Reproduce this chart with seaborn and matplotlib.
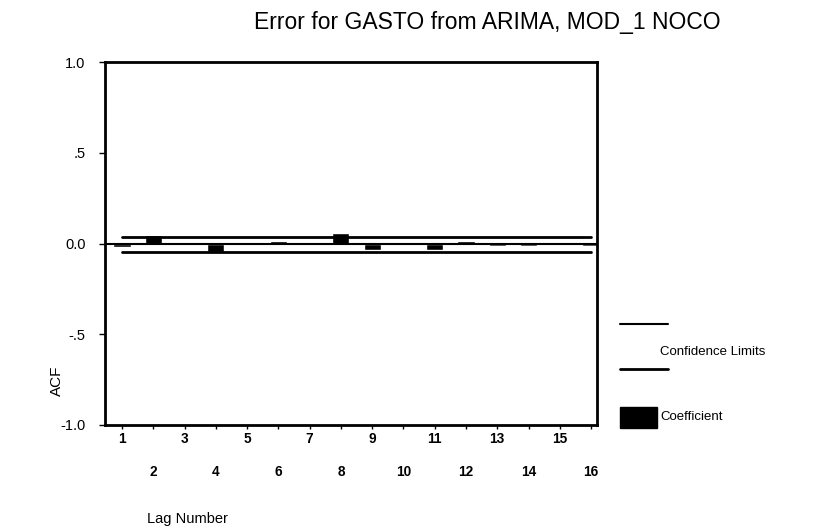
import matplotlib
matplotlib.use('Agg')
import matplotlib.pyplot as plt
import seaborn as sns
import pandas as pd
from matplotlib.lines import Line2D
from matplotlib.patches import Rectangle

# ACF of the residuals
lags = [1, 2, 3, 4, 5, 6, 7, 8, 9, 10, 11, 12, 13, 14, 15, 16]
acf = [-0.02, 0.045, 0.008, -0.045, 0.004, 0.014, 0.006, 0.06,
       -0.035, 0.01, -0.035, 0.012, -0.015, -0.012, -0.01, -0.015]
upper_limit = [0.037, 0.037, 0.037, 0.037, 0.037, 0.037, 0.037, 0.037,
               0.037, 0.037, 0.037, 0.037, 0.037, 0.037, 0.037, 0.037]
lower_limit = [-0.046, -0.046, -0.046, -0.046, -0.046, -0.046, -0.046, -0.046,
               -0.046, -0.046, -0.046, -0.046, -0.046, -0.046, -0.046, -0.046]

y_ticks = [1.0, 0.5, 0.0, -0.5, -1.0]
y_tick_labels = ['1.0', '.5', '0.0', '-.5', '-1.0']

title = 'Error for GASTO from ARIMA, MOD_1 NOCO'

W, H = 833, 532


def fx(px):
    return px / W


def fy(py):
    return 1 - py / H


df = pd.DataFrame({'lag': lags, 'acf': acf})

sns.set_theme(style='white')
plt.rcParams['font.family'] = ['Liberation Sans', 'DejaVu Sans']

fig = plt.figure(figsize=(W / 100, H / 100), dpi=100)
ax = fig.add_axes([fx(105), fy(425), (597 - 105) / W, (425 - 62) / H])

sns.barplot(data=df, x='lag', y='acf', order=lags, color='black',
            saturation=1, width=0.55, ax=ax)
pos = range(len(lags))
ax.axhline(0, color='black', lw=1.5)
ax.plot(pos, upper_limit, color='black', lw=2)
ax.plot(pos, lower_limit, color='black', lw=2)

ax.set_xlim(-0.544, 15.19)
ax.set_ylim(-1, 1)
ax.set_xlabel('')
ax.set_ylabel('')

ax.set_yticks(y_ticks, y_tick_labels)
ax.set_xticks(list(pos), [str(l) if l % 2 else '\n' + str(l) for l in lags])
for lab in ax.get_xticklabels():
    lab.set_linespacing(2.7)
    lab.set_fontweight('bold')

ax.tick_params(axis='x', bottom=True, direction='out', length=3, width=1,
               color='black', labelsize=9.8, pad=2, labelcolor='black')
ax.tick_params(axis='y', left=True, direction='out', length=4, width=1,
               color='black', labelsize=10.5, pad=10, labelcolor='black')
for sp in ax.spines.values():
    sp.set_color('black')
    sp.set_linewidth(2)

# titles and axis names
fig.text(fx(487), fy(22), title, ha='center', va='center', fontsize=16.5,
         color='black')
fig.text(fx(147), fy(519), 'Lag Number', ha='left', va='center',
         fontsize=10.5, color='black')
fig.text(fx(57), fy(381), 'ACF', ha='center', va='center', rotation=90,
         fontsize=11, color='black')

# hand-made legend like the SPSS one
fig.add_artist(Line2D([fx(620), fx(668)], [fy(324), fy(324)],
                      color='black', lw=1.5, transform=fig.transFigure))
fig.add_artist(Line2D([fx(620), fx(668)], [fy(369), fy(369)],
                      color='black', lw=2, transform=fig.transFigure))
fig.text(fx(660), fy(352), 'Confidence Limits', ha='left', va='center',
         fontsize=9.5, color='black')
fig.add_artist(Rectangle((fx(620), fy(428)), 37 / W, 21 / H,
                         facecolor='black', edgecolor='black',
                         transform=fig.transFigure))
fig.text(fx(660), fy(417), 'Coefficient', ha='left', va='center',
         fontsize=9.5, color='black')

fig.savefig('out.png', dpi=100)
